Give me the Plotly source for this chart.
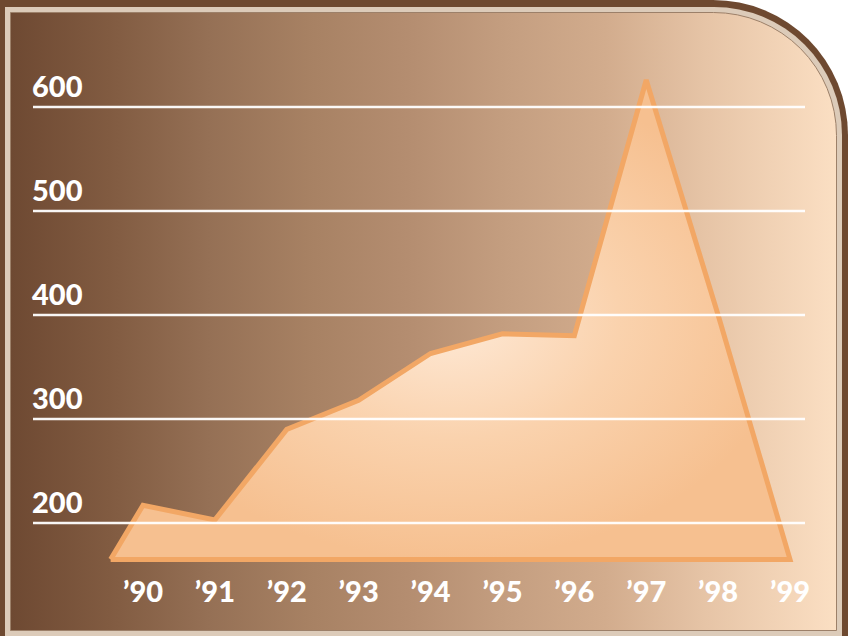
import base64
import plotly.graph_objects as go

# ---- data ----
years = [1990, 1991, 1992, 1993, 1994, 1995, 1996, 1997, 1998, 1999]
year_labels = ["\u201990", "\u201991", "\u201992", "\u201993", "\u201994",
               "\u201995", "\u201996", "\u201997", "\u201998", "\u201999"]
values = [217, 203, 290, 318, 363, 382, 380, 626, 400, 165]
baseline = 165
base_start = 1989.55
y_ticks = [200, 300, 400, 500, 600]
y_tick_labels = ["200", "300", "400", "500", "600"]

W, H = 852, 636
ML, MR, MT, MB = 33, 47, 0, 61
PW, PH = W - ML - MR, H - MT - MB

# ---- decorative framed background (gradient panel with rounded top-right corner) ----
svg = f'''<svg xmlns="http://www.w3.org/2000/svg" width="{W}" height="{H}" viewBox="0 0 {W} {H}">
<defs><linearGradient id="g" x1="0" x2="1" y1="0" y2="0">
<stop offset="0" stop-color="#6e4932"/>
<stop offset="0.12" stop-color="#815b41"/>
<stop offset="0.24" stop-color="#957055"/>
<stop offset="0.36" stop-color="#a78163"/>
<stop offset="0.48" stop-color="#b48d70"/>
<stop offset="0.60" stop-color="#c49e80"/>
<stop offset="0.72" stop-color="#d2ac8d"/>
<stop offset="0.84" stop-color="#e6c4a6"/>
<stop offset="1" stop-color="#fbdfc3"/>
</linearGradient></defs>
<rect width="{W}" height="{H}" fill="#ffffff"/>
<path d="M0,0 H713 A135,135 0 0 1 848,135 V{H} H0 Z" fill="#6e4930"/>
<path d="M5,7 H714 A128,128 0 0 1 842,135 V{H} H5 Z" fill="#dccbb9"/>
<path d="M10.5,12.5 H713.5 A123,123 0 0 1 836.5,135.5 V630.5 H10.5 Z" fill="url(#g)" stroke="#9c8069" stroke-width="1"/>
</svg>'''
bg_uri = "data:image/svg+xml;base64," + base64.b64encode(svg.encode()).decode()

# ---- area polygon ----
xs = [base_start] + years + [base_start]
ys = [baseline] + values + [baseline]

fig = go.Figure()
fig.add_trace(go.Scatter(
    x=xs, y=ys, mode="lines", fill="toself",
    line=dict(color="#f2a765", width=5),
    fillgradient=dict(type="radial",
                      colorscale=[[0, "#fee9d6"], [0.5, "#fad2ad"], [1, "#f6c090"]]),
    hoverinfo="skip", showlegend=False,
))

tick_font = dict(family="Lato, 'Open Sans', sans-serif", size=29, color="#ffffff", weight=900)

fig.update_layout(
    width=W, height=H,
    margin=dict(l=ML, r=MR, t=MT, b=MB, pad=0),
    paper_bgcolor="rgba(0,0,0,0)",
    plot_bgcolor="rgba(0,0,0,0)",
    showlegend=False,
    images=[dict(source=bg_uri, xref="paper", yref="paper",
                 x=-ML / PW, y=1 + MT / PH, sizex=W / PW, sizey=H / PH,
                 xanchor="left", yanchor="top", sizing="stretch", layer="below")],
    xaxis=dict(range=[1988.4699, 1999.2087], showgrid=False, zeroline=False,
               showline=False, ticks="", tickvals=years, ticktext=year_labels,
               tickfont=tick_font, ticklabelstandoff=-3, fixedrange=True),
    yaxis=dict(range=[150.0, 702.88], showgrid=False, zeroline=False,
               showline=False, ticks="", tickvals=y_ticks, ticktext=y_tick_labels,
               tickfont=tick_font, ticklabelposition="inside", ticklabelshift=-20,
               ticklabelstandoff=-4, fixedrange=True),
    shapes=[dict(type="line", xref="paper", x0=0, x1=1, yref="y", y0=v, y1=v,
                 line=dict(color="rgba(255,255,255,0.95)", width=2.5), layer="above")
            for v in y_ticks],
)

fig.write_html("out.html")
